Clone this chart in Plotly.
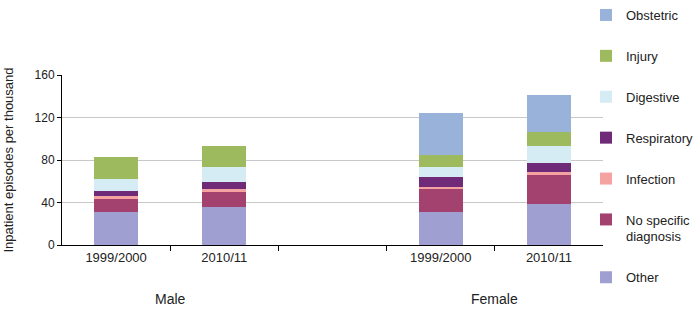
import plotly.graph_objects as go

x_pos = [0, 1, 3, 4]
x_labels = ["1999/2000", "2010/11", "1999/2000", "2010/11"]
groups = ["Male", "Female"]

other = [31, 35.5, 31, 38.3]
no_specific = [12, 14, 21.4, 27.3]
infection = [3.4, 2.8, 2.2, 2.8]
respiratory = [4.6, 7, 9, 8.5]
digestive = [11, 13.7, 10, 16.3]
injury = [20.5, 20, 10.7, 12.8]
obstetric = [0, 0, 40, 35]

series = [
    ("Other", other, "#a09fd2"),
    ("No specific<br>diagnosis", no_specific, "#a3416f"),
    ("Infection", infection, "#f5a3a0"),
    ("Respiratory", respiratory, "#6f2a78"),
    ("Digestive", digestive, "#d5ecf4"),
    ("Injury", injury, "#9dbb5e"),
    ("Obstetric", obstetric, "#98b2d9"),
]

fig = go.Figure()
for i, (name, vals, col) in enumerate(series):
    fig.add_trace(go.Bar(
        x=x_pos, y=vals, name=name, marker=dict(color=col, line=dict(width=0)),
        width=0.41, legendgroup=str(i), legendrank=1000 - 10 * i,
    ))

fig.update_layout(
    barmode="stack",
    width=700, height=313,
    margin=dict(l=62, r=97, t=75, b=68, autoexpand=False),
    paper_bgcolor="white", plot_bgcolor="white",
    font=dict(family="Liberation Sans, Arial, sans-serif", size=12, color="#222"),
    showlegend=True,
    legend=dict(
        xref="container", yref="container",
        x=586 / 700, xanchor="left", y=1.045, yanchor="top",
        traceorder="grouped", tracegroupgap=21, maxheight=340, valign="top",
        font=dict(size=13), bgcolor="rgba(0,0,0,0)", itemwidth=30,
    ),
    xaxis=dict(
        range=[-0.5, 4.5], tickvals=x_pos, ticktext=x_labels, ticks="",
        showline=True, linecolor="black", linewidth=1, showgrid=False, zeroline=False,
        tickfont=dict(size=13),
        minor=dict(tickvals=[0.5, 1.5, 2.5, 3.5], ticks="outside", ticklen=5, tickcolor="black"),
    ),
    yaxis=dict(
        range=[0, 160], tickvals=[0, 40, 80, 120, 160], showline=True, linecolor="black",
        linewidth=1, ticks="outside", ticklen=4, tickcolor="black",
        showgrid=True, gridcolor="#c8c8c8", zeroline=False,
        title=dict(text="Inpatient episodes per thousand", font=dict(size=13), standoff=18),
    ),
)

fig.add_annotation(x=0.5, y=-0.32, xref="x", yref="paper", text=groups[0], showarrow=False,
                   font=dict(size=14), yanchor="middle")
fig.add_annotation(x=3.5, y=-0.32, xref="x", yref="paper", text=groups[1], showarrow=False,
                   font=dict(size=14), yanchor="middle")

fig.write_html("out.html", config={"displayModeBar": False},
               post_script="document.body.style.margin='0';")
